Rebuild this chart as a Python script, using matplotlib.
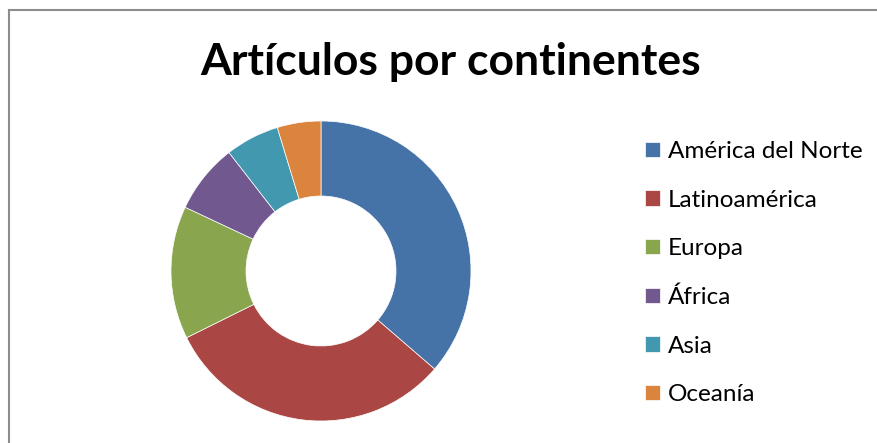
import matplotlib.pyplot as plt
from matplotlib.lines import Line2D

continentes = ['América del Norte', 'Latinoamérica', 'Europa', 'África', 'Asia', 'Oceanía']
articulos = [36.3, 31.3, 14.3, 7.5, 5.8, 4.7]
colores = ['#4572A7', '#AA4643', '#89A54E', '#71588F', '#4198AF', '#DB843D']

plt.rcParams['font.family'] = ['Lato', 'DejaVu Sans']

W, H = 877, 443
fig = plt.figure(figsize=(W / 100, H / 100), dpi=100)

# marco gris (solo arriba e izquierda visibles)
fig.add_artist(Line2D([8.5 / W, 1.0], [1 - 9.5 / H, 1 - 9.5 / H], color='#8c8c8c', lw=1.5))
fig.add_artist(Line2D([8.5 / W, 8.5 / W], [1 - 9.5 / H, 0.0], color='#8c8c8c', lw=1.5))

fig.text(451 / W, 1 - 62 / H, 'Artículos por continentes', ha='center', va='center',
         fontsize=32, fontweight='bold')

# dona: centro (321, 271), radio 150 px
cx, cy, r = 321, 271, 150
ax = fig.add_axes([(cx - r) / W, (H - cy - r) / H, 2 * r / W, 2 * r / H])
wedges, _ = ax.pie(articulos, colors=colores, startangle=90, counterclock=False,
                   radius=1, wedgeprops=dict(width=0.5, edgecolor='white', linewidth=0.5))
ax.set_xlim(-1, 1)
ax.set_ylim(-1, 1)
ax.set_aspect('equal')
ax.axis('off')

fig.legend(wedges, continentes, loc='upper left', bbox_to_anchor=(633 / W, 1 - 129 / H),
           frameon=False, fontsize=17.5, handlelength=0.62, handleheight=0.62,
           handletextpad=0.3, labelspacing=1.13, borderpad=0)

plt.savefig('out.png', dpi=100)
